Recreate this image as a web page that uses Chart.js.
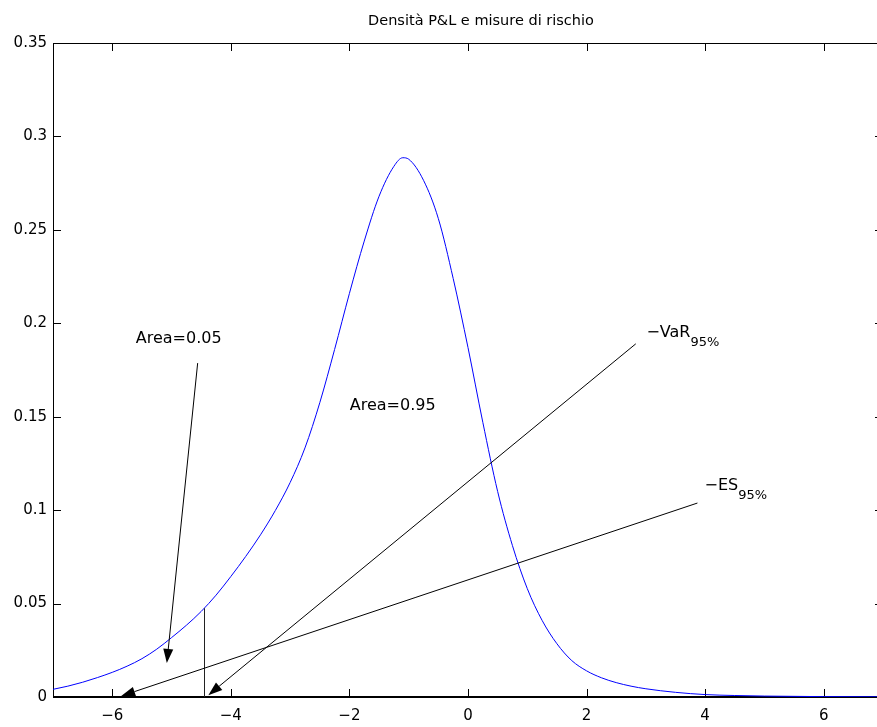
<!DOCTYPE html>
<html>
<head>
<meta charset="utf-8">
<script src="https://cdn.jsdelivr.net/npm/chart.js@4.4.1/dist/chart.umd.min.js"></script>
<style>
  body { margin: 0; overflow: hidden; background: #fff; }
  #wrap { width: 900px; height: 727px; }
</style>
</head>
<body>
<div id="wrap"><canvas id="pnlChart" width="900" height="727"></canvas></div>
<script>
// --- data ---
const titleText = 'Densità P&L e misure di rischio';
const xTicks = [-6, -4, -2, 0, 2, 4, 6];
const yTicks = [0, 0.05, 0.1, 0.15, 0.2, 0.25, 0.3, 0.35];

const pnlX = [-7, -6.75, -6.5, -6.25, -6, -5.75, -5.5, -5.25, -5, -4.75, -4.5, -4.25, -4,
  -3.75, -3.5, -3.25, -3, -2.75, -2.5, -2.25, -2, -1.75, -1.5, -1.25, -1.1, -1, -0.75, -0.5,
  -0.25, 0, 0.25, 0.5, 0.75, 1, 1.25, 1.5, 1.75, 2, 2.25, 2.5, 2.75, 3, 3.5, 4, 4.5, 5, 6, 7];
const pnlDensity = [0.0041, 0.0058, 0.0079, 0.0104, 0.0132, 0.0165, 0.0205, 0.0256, 0.0318,
  0.0384, 0.0458, 0.0545, 0.0645, 0.0752, 0.0868, 0.0998, 0.1148, 0.1333, 0.1575, 0.1860,
  0.2160, 0.2440, 0.2680, 0.2840, 0.2886, 0.2878, 0.2765, 0.2560, 0.2240, 0.1870, 0.1470,
  0.1100, 0.0810, 0.0580, 0.0410, 0.0285, 0.0195, 0.0140, 0.0103, 0.0077, 0.0058, 0.0044,
  0.0025, 0.0013, 0.0008, 0.0005, 0.0002, 0.0001];

// VaR level and density at that point
const varX = -4.445;
const varDensity = 0.0475;

// arrows: [from, to] in data units
const arrowArea05 = [[-4.56, 0.1787], [-5.08, 0.0182]];
const arrowVaR = [[2.83, 0.189], [-4.38, 0.001]];
const arrowES = [[3.87, 0.1038], [-5.85, 0.0005]];

// text labels: [x, y] of baseline in data units
const labelArea05 = { text: 'Area=0.05', pos: [-4.88, 0.1894] };
const labelArea95 = { text: 'Area=0.95', pos: [-1.27, 0.1536] };
const labelVaR = { main: '\u2212VaR', sub: '95%', pos: [3.01, 0.1928] };
const labelES = { main: '\u2212ES', sub: '95%', pos: [3.99, 0.1108] };

const FONT = '"DejaVu Sans", sans-serif';
const fmt = v => String(+Number(v).toFixed(2)).replace('-', '\u2212');

function drawArrow(ctx, sx, sy, from, to) {
  const x1 = sx.getPixelForValue(from[0]), y1 = sy.getPixelForValue(from[1]);
  const x2 = sx.getPixelForValue(to[0]), y2 = sy.getPixelForValue(to[1]);
  const ang = Math.atan2(y2 - y1, x2 - x1);
  const len = 14, half = 5;
  const bx = x2 - len * Math.cos(ang), by = y2 - len * Math.sin(ang);
  ctx.beginPath();
  ctx.moveTo(x1, y1);
  ctx.lineTo(bx, by);
  ctx.stroke();
  ctx.beginPath();
  ctx.moveTo(x2, y2);
  ctx.lineTo(bx + half * Math.sin(ang), by - half * Math.cos(ang));
  ctx.lineTo(bx - half * Math.sin(ang), by + half * Math.cos(ang));
  ctx.closePath();
  ctx.fill();
}

function drawSubLabel(ctx, sx, sy, lab) {
  const x = sx.getPixelForValue(lab.pos[0]), y = sy.getPixelForValue(lab.pos[1]);
  ctx.font = '16px ' + FONT;
  ctx.textAlign = 'left';
  ctx.textBaseline = 'alphabetic';
  ctx.fillText(lab.main, x, y);
  const w = ctx.measureText(lab.main).width;
  ctx.font = '13px ' + FONT;
  ctx.fillText(lab.sub, x + w, y + 9);
}

// --- matlab-like box, inward ticks, title and annotations ---
const matlabAxes = {
  id: 'matlabAxes',
  beforeDatasetsDraw(chart) {
    const { ctx, chartArea: a, scales: { x, y } } = chart;
    ctx.save();
    ctx.strokeStyle = '#000';
    ctx.lineWidth = 1;
    ctx.strokeRect(Math.round(a.left) + 0.5, Math.round(a.top) + 0.5,
      Math.round(a.right - a.left), Math.round(a.bottom - a.top));
    ctx.beginPath();
    xTicks.forEach(v => {
      const px = Math.round(x.getPixelForValue(v)) + 0.5;
      ctx.moveTo(px, a.bottom); ctx.lineTo(px, a.bottom - 8);
      ctx.moveTo(px, a.top); ctx.lineTo(px, a.top + 8);
    });
    yTicks.forEach(v => {
      const py = Math.round(y.getPixelForValue(v)) + 0.5;
      ctx.moveTo(a.left, py); ctx.lineTo(a.left + 8, py);
      ctx.moveTo(a.right, py); ctx.lineTo(a.right - 8, py);
    });
    ctx.stroke();
    ctx.beginPath();
    ctx.lineWidth = 2;
    ctx.moveTo(a.left, Math.round(a.bottom));
    ctx.lineTo(a.right, Math.round(a.bottom));
    ctx.stroke();
    ctx.restore();
  },
  afterDraw(chart) {
    const { ctx, chartArea: a, scales: { x, y } } = chart;
    ctx.save();
    ctx.fillStyle = '#000';
    ctx.strokeStyle = '#000';
    ctx.lineWidth = 1;

    // title
    ctx.font = '14.5px ' + FONT;
    ctx.textAlign = 'center';
    ctx.textBaseline = 'middle';
    ctx.fillText(titleText, (a.left + a.right) / 2 + 13, 21);

    // VaR vertical line
    const vx = Math.round(x.getPixelForValue(varX)) + 0.5;
    ctx.strokeStyle = '#222';
    ctx.beginPath();
    ctx.moveTo(vx, y.getPixelForValue(0));
    ctx.lineTo(vx, y.getPixelForValue(varDensity));
    ctx.stroke();
    ctx.strokeStyle = '#000';

    drawArrow(ctx, x, y, arrowArea05[0], arrowArea05[1]);
    drawArrow(ctx, x, y, arrowVaR[0], arrowVaR[1]);
    drawArrow(ctx, x, y, arrowES[0], arrowES[1]);

    ctx.font = '16px ' + FONT;
    ctx.textAlign = 'center';
    ctx.textBaseline = 'alphabetic';
    [labelArea05, labelArea95].forEach(l => {
      ctx.fillText(l.text, x.getPixelForValue(l.pos[0]), y.getPixelForValue(l.pos[1]));
    });
    drawSubLabel(ctx, x, y, labelVaR);
    drawSubLabel(ctx, x, y, labelES);
    ctx.restore();
  }
};

new Chart(document.getElementById('pnlChart'), {
  type: 'scatter',
  data: {
    datasets: [{
      data: pnlX.map((v, i) => ({ x: v, y: pnlDensity[i] })),
      showLine: true,
      borderColor: '#0000ff',
      borderWidth: 1,
      pointRadius: 0,
      cubicInterpolationMode: 'monotone',
      fill: false
    }]
  },
  options: {
    responsive: false,
    animation: false,
    events: [],
    layout: { padding: { top: 43, right: 17, left: 0, bottom: 0 } },
    plugins: { legend: { display: false }, tooltip: { enabled: false }, title: { display: false } },
    scales: {
      x: {
        type: 'linear', min: -7, max: 7,
        afterBuildTicks: s => { s.ticks = xTicks.map(v => ({ value: v })); },
        afterFit: s => { s.height = 30; },
        grid: { display: false, drawTicks: false },
        border: { display: false },
        ticks: { padding: 10, color: '#000', font: { family: FONT, size: 15 }, maxRotation: 0, autoSkip: false, callback: fmt }
      },
      y: {
        type: 'linear', min: 0, max: 0.35,
        afterBuildTicks: s => { s.ticks = yTicks.map(v => ({ value: v })); },
        afterFit: s => { s.width = 53; },
        grid: { display: false, drawTicks: false },
        border: { display: false },
        ticks: { padding: 6, color: '#000', font: { family: FONT, size: 15 }, autoSkip: false, callback: fmt }
      }
    }
  },
  plugins: [matlabAxes]
});
</script>
</body>
</html>
